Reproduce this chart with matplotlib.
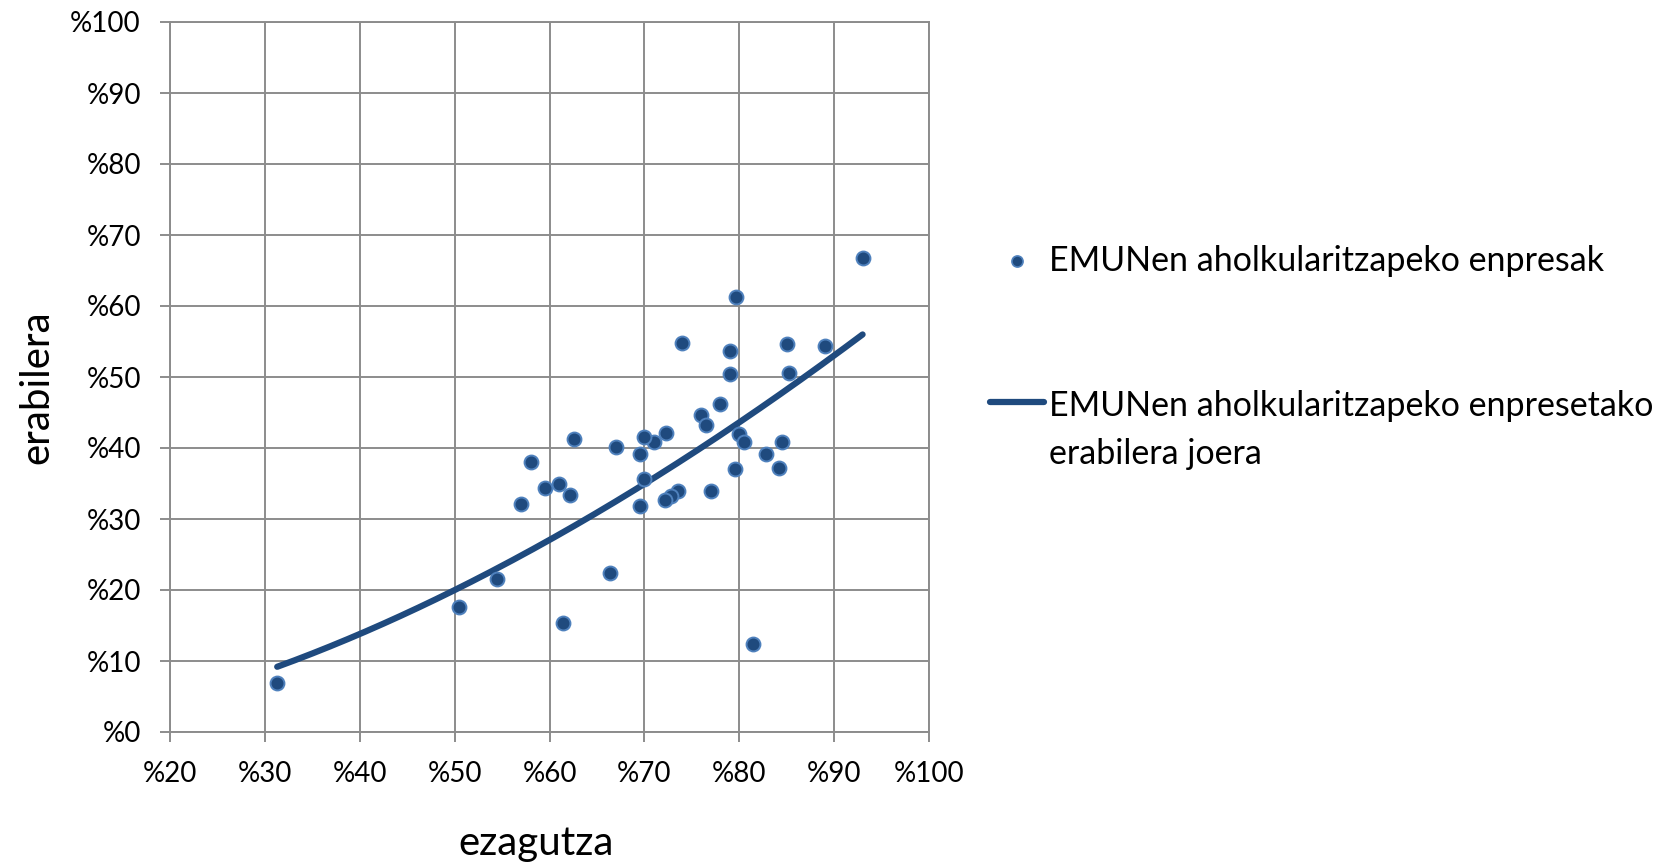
import numpy as np
import matplotlib
matplotlib.use("Agg")
import matplotlib.pyplot as plt
from matplotlib.lines import Line2D
from matplotlib.ticker import FuncFormatter

plt.rcParams['font.family'] = ['Lato', 'DejaVu Sans']

# ezagutza (x) eta erabilera (y), ehunekotan
ezagutza = [93.0, 79.7, 74.0, 79.0, 85.0, 89.0, 79.0, 85.2, 78.0, 76.0,
            76.5, 80.0, 80.5, 84.5, 82.8, 84.2, 79.5, 77.0, 72.3, 71.0,
            70.0, 69.5, 67.0, 62.6, 70.0, 73.5, 72.8, 72.2, 69.5, 58.0,
            61.0, 59.5, 62.2, 57.0, 31.3, 50.5, 54.5, 61.4, 66.4, 81.5]
erabilera = [66.7, 61.3, 54.8, 53.7, 54.6, 54.4, 50.4, 50.6, 46.2, 44.6,
             43.2, 42.0, 40.9, 40.9, 39.2, 37.2, 37.0, 34.0, 42.1, 40.8,
             41.5, 39.1, 40.1, 41.3, 35.6, 33.9, 33.3, 32.7, 31.9, 38.0,
             35.0, 34.4, 33.4, 32.1, 6.9, 17.6, 21.5, 15.3, 22.4, 12.4]

puntu_izena = "EMUNen aholkularitzapeko enpresak"
joera_izena = "EMUNen aholkularitzapeko enpresetako\nerabilera joera"

x = np.array(ezagutza)
y = np.array(erabilera)

# Excel-eko "power" joera-lerroa: ln y = ln a + b ln x
b, ln_a = np.polyfit(np.log(x), np.log(y), 1)
xs = np.linspace(x.min(), x.max(), 200)
ys = np.exp(ln_a) * xs ** b

fig = plt.figure(figsize=(16.7, 8.64), dpi=100)
ax = fig.add_axes([170 / 1670, 1 - 732 / 864, 759 / 1670, 710 / 864])

grey = '#8c8c8c'
dark = '#1f4a7e'
light = '#4f81bd'

ax.plot(xs, ys, color=dark, lw=4.5, solid_capstyle='round', zorder=3)
ax.plot(x, y, 'o', ms=10, mfc=dark, mec=light, mew=1.4, zorder=4)

ax.set_xlim(20, 100)
ax.set_ylim(0, 100)
ax.set_xticks(range(20, 101, 10))
ax.set_yticks(range(0, 101, 10))
fmt = FuncFormatter(lambda v, p: "%%%d" % v)
ax.xaxis.set_major_formatter(fmt)
ax.yaxis.set_major_formatter(fmt)
ax.grid(True, color=grey, lw=1.4)
ax.set_axisbelow(True)
for s in ax.spines.values():
    s.set_color(grey)
    s.set_linewidth(1.4)
ax.tick_params(direction='out', length=7, width=1.4, color=grey,
               labelsize=20, pad=14)

ax.set_xlabel("ezagutza", fontsize=29, va='center', ha='center')
ax.set_ylabel("erabilera", fontsize=29, va='center', ha='center')
ax.xaxis.set_label_coords((536 - 170) / 759, -(843 - 732) / 710)
ax.yaxis.set_label_coords(-(170 - 37) / 759, (732 - 387) / 710)

# legenda
fig.add_artist(Line2D([1017 / 1670], [1 - 261 / 864], marker='o', ms=8,
                      mfc=dark, mec=light, mew=1.2, transform=fig.transFigure))
fig.text(1049 / 1670, 1 - 261 / 864, puntu_izena, fontsize=24.5, va='center')
fig.add_artist(Line2D([990 / 1670, 1044 / 1670], [1 - 402 / 864] * 2,
                      color=dark, lw=4.5, solid_capstyle='round',
                      transform=fig.transFigure))
fig.text(1049 / 1670, 1 - 390 / 864, joera_izena, fontsize=24.5, va='top',
         linespacing=1.62, transform=fig.transFigure)

fig.savefig("out.png", dpi=100)
